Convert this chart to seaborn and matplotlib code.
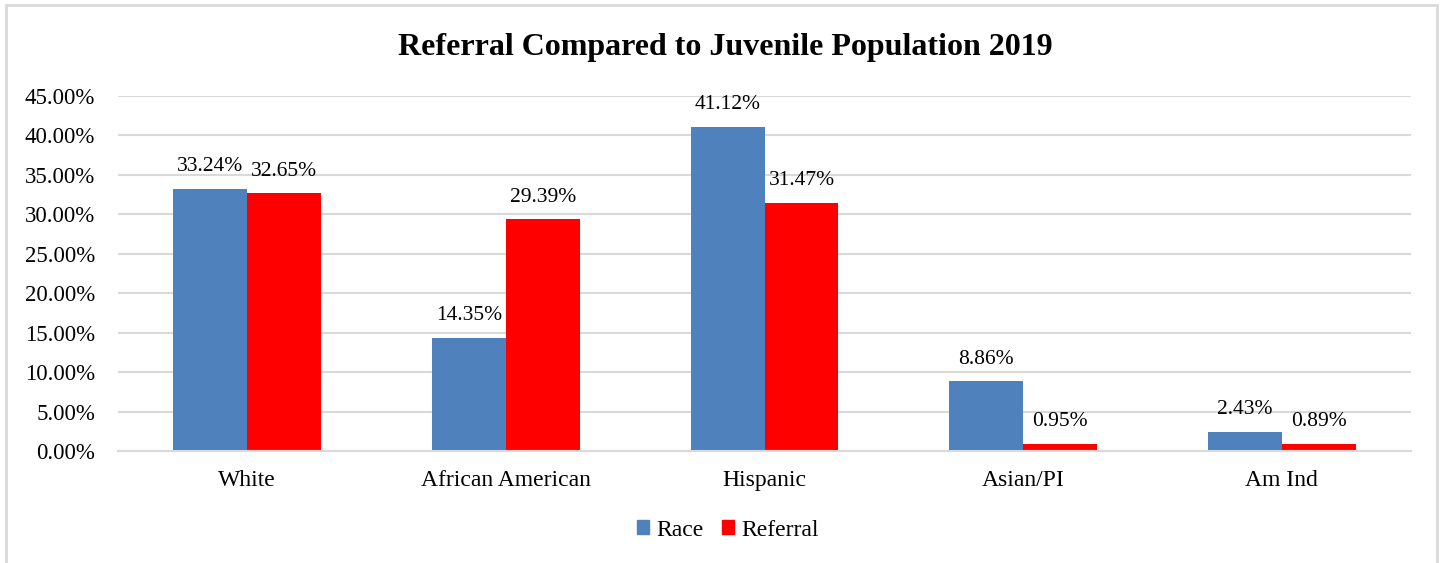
import matplotlib
matplotlib.use("Agg")
import matplotlib.pyplot as plt
from matplotlib.patches import Rectangle
import seaborn as sns
import pandas as pd

categories = ["White", "African American", "Hispanic", "Asian/PI", "Am Ind"]
race = [33.24, 14.35, 41.12, 8.86, 2.43]
referral = [32.65, 29.39, 31.47, 0.95, 0.89]
series_names = ["Race", "Referral"]
y_ticks = [0, 5, 10, 15, 20, 25, 30, 35, 40, 45]

df = pd.DataFrame({
    "Group": categories * 2,
    "Series": [series_names[0]] * len(categories) + [series_names[1]] * len(categories),
    "Value": race + referral,
})

sns.set_theme(style="white")
plt.rcParams["font.family"] = ["Liberation Serif", "DejaVu Serif"]
plt.rcParams["text.color"] = "black"

fig = plt.figure(figsize=(14.45, 5.63), dpi=100)
ax = fig.add_axes([118 / 1445, 1 - 451 / 563, (1411 - 118) / 1445, (451 - 96) / 563])

palette = {"Race": "#4F81BD", "Referral": "#FF0000"}
sns.barplot(data=df, x="Group", y="Value", hue="Series", order=categories,
            hue_order=series_names, palette=palette, saturation=1,
            width=0.572, gap=0, linewidth=0, ax=ax, legend=True)

ax.set_ylim(0, 45)
ax.set_xlim(-0.5, len(categories) - 0.5)
ax.set_yticks(y_ticks)
ax.set_yticklabels([f"{v:.2f}%" for v in y_ticks])
ax.yaxis.grid(True, color="#D9D9D9", linewidth=1.5)
ax.set_axisbelow(True)
for s in ["top", "right", "left"]:
    ax.spines[s].set_visible(False)
ax.spines["bottom"].set_color("#D9D9D9")
ax.spines["bottom"].set_linewidth(1.5)
ax.tick_params(axis="both", length=0, colors="black")
ax.tick_params(axis="x", pad=14, labelsize=17)
ax.tick_params(axis="y", pad=16.5, labelsize=16.5)
ax.set_xlabel("")
ax.set_ylabel("")

for container in ax.containers:
    ax.bar_label(container, labels=[f"{v:.2f}%" for v in container.datavalues],
                 padding=9, fontsize=15.5, color="black")

ax.legend_.remove()
handles = [Rectangle((0, 0), 1, 1, color=palette[n]) for n in series_names]
fig.legend(handles, series_names, loc="center", bbox_to_anchor=(728 / 1445, 1 - 530 / 563),
           ncol=2, frameon=False, fontsize=17, handlelength=0.5, handleheight=0.5,
           handletextpad=0.3, columnspacing=0.8, labelcolor="black")

fig.text(725 / 1445, 1 - 47 / 563, "Referral Compared to Juvenile Population 2019",
         ha="center", va="center", fontsize=23, fontweight="bold", color="black")

fig.patches.append(Rectangle((6 / 1445, -0.05), (1437 - 6) / 1445, 1.05 - 5 / 563,
                             transform=fig.transFigure, fill=False,
                             edgecolor="#D9D9D9", linewidth=2))

fig.savefig("out.png", dpi=100)
